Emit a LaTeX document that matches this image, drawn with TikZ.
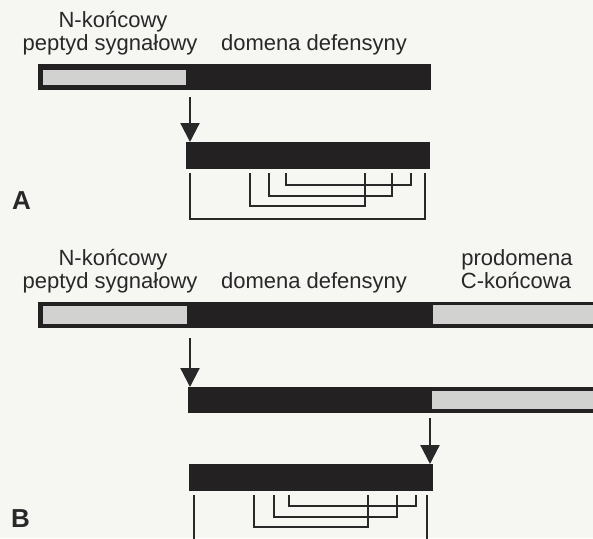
\documentclass[tikz,border=0pt]{standalone}
\usepackage{fontspec}
\setmainfont{Liberation Sans}
\usetikzlibrary{arrows.meta}
\definecolor{bg}{RGB}{246,246,243}
\definecolor{ink}{RGB}{40,40,40}
\definecolor{barblack}{RGB}{35,33,33}
\definecolor{bargray}{RGB}{210,210,208}
\tikzset{
  lbl/.style={anchor=base, inner sep=0pt, text=ink, font=\fontsize{22}{26}\selectfont},
  panel/.style={anchor=base west, inner sep=0pt, text=ink, font=\bfseries\fontsize{26}{30}\selectfont},
  blackbar/.style={fill=barblack, draw=none, anchor=north west, inner sep=0pt, outer sep=0pt},
  graybox/.style={fill=bargray, draw=none, anchor=north west, inner sep=0pt, outer sep=0pt},
  arr/.style={draw=ink, line width=2.2pt, -{Triangle[width=19pt,length=19pt]}},
  bond/.style={draw=ink, line width=2.2pt}
}
\begin{document}
\begin{tikzpicture}[x=1pt,y=-1pt]
\fill[bg] (0,0) rectangle (593,538);
\useasboundingbox (0,0) rectangle (593,538);

% ---------- Panel A ----------
\node[lbl] (tA1) at (113,27) {N-końcowy};
\node[lbl] (tA2) at (110,50) {peptyd sygnałowy};
\node[lbl] (tA3) at (314,50) {domena defensyny};

\node[blackbar, minimum width=393pt, minimum height=26pt] (a1) at (38,64) {};
\node[graybox, minimum width=143pt, minimum height=15pt] (a1g) at (43,70) {};

\coordinate (as1) at (190,97);
\node[blackbar, minimum width=244pt, minimum height=27pt] (a2) at (186,142) {};
\draw[arr] (as1) -- (as1 |- a2.north);

\draw[bond] (190,173) -- (190,219) -- (425,219) -- (425,173);
\draw[bond] (250,173) -- (250,206) -- (365,206) -- (365,173);
\draw[bond] (269,173) -- (269,196) -- (392,196) -- (392,173);
\draw[bond] (286,173) -- (286,185) -- (411,185) -- (411,173);

\node[panel] (lA) at (12,209) {A};

% ---------- Panel B ----------
\node[lbl] (tB1) at (113,265) {N-końcowy};
\node[lbl] (tB2) at (110,288) {peptyd sygnałowy};
\node[lbl] (tB3) at (314,288) {domena defensyny};
\node[lbl] (tB4) at (517,265) {prodomena};
\node[lbl] (tB5) at (516,288) {C-końcowa};

\node[blackbar, minimum width=560pt, minimum height=26pt] (b1) at (38,302) {};
\node[graybox, minimum width=144pt, minimum height=18pt] (b1g) at (43,306) {};
\node[graybox, minimum width=165pt, minimum height=19pt] (b1h) at (433,305) {};

\coordinate (bs1) at (190,338);
\node[blackbar, minimum width=410pt, minimum height=26pt] (b2) at (188,387) {};
\node[graybox, minimum width=165pt, minimum height=18pt] (b2h) at (432,391) {};
\draw[arr] (bs1) -- (bs1 |- b2.north);

\coordinate (bs2) at (430,418);
\node[blackbar, minimum width=244pt, minimum height=27pt] (b3) at (189,464) {};
\draw[arr] (bs2) -- (bs2 |- b3.north);

\draw[bond] (194,495) -- (194,540);
\draw[bond] (427,495) -- (427,540);
\draw[bond] (254,495) -- (254,527) -- (368,527) -- (368,495);
\draw[bond] (274,495) -- (274,517) -- (397,517) -- (397,495);
\draw[bond] (289,495) -- (289,506) -- (416,506) -- (416,495);

\node[panel] (lB) at (11,527) {B};
\end{tikzpicture}
\end{document}
